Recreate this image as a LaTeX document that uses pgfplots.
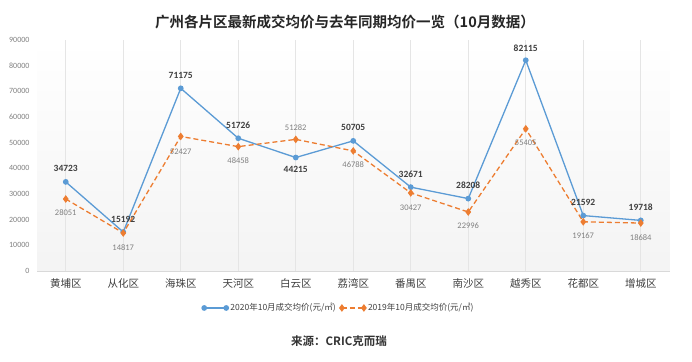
\documentclass[border=0pt]{standalone}
\usepackage{fontspec}
\usepackage{pgfplots}
\usepackage{pgfplotstable}
\pgfplotsset{compat=1.18}
\setmainfont{Carlito}
\newfontfamily\cjk{Noto Sans CJK SC}[BoldFont={Noto Sans CJK SC Bold}]
\definecolor{cblue}{HTML}{5B9BD5}
\definecolor{corange}{HTML}{ED7D31}
\definecolor{lbl}{HTML}{404040}

\pgfplotstableread{
x y dy
0 34723 13
1 15192 13
2 71175 13
3 51726 13
4 44215 -12
5 50705 13
6 32671 13
7 28208 13
8 82115 12
9 21592 13
10 19718 13
}\dataA

\pgfplotstableread{
x y dy
0 28051 -14
1 14817 -15
2 52427 -15
3 48458 -14
4 51282 12
5 46788 -14
6 30427 -15
7 22996 -14
8 55405 -14
9 19167 -14
10 18684 -15
}\dataB

\begin{document}
\begin{tikzpicture}
\useasboundingbox (0pt,0pt) rectangle (692pt,361pt);
\begin{axis}[
  at={(37pt,90pt)}, anchor=south west, scale only axis,
  width=632.5pt, height=231pt,
  xmin=-0.5, xmax=10.5, ymin=0, ymax=90000,
  axis background/.style={shade, top color=white, bottom color=gray!9},
  axis line style={draw=none}, major tick length=0pt,
  xtick={0,...,10},
  xticklabels={黄埔区,从化区,海珠区,天河区,白云区,荔湾区,番禺区,南沙区,越秀区,花都区,增城区},
  xticklabel style={font=\cjk\fontsize{10.5}{11}\selectfont, text=lbl, yshift=-4pt},
  ytick={0,10000,...,90000}, scaled y ticks=false,
  /pgf/number format/1000 sep={}, /pgf/number format/assume math mode=true,
  yticklabel style={font=\fontsize{8}{9}\selectfont, text=gray, xshift=-4pt},
  xmajorgrids, grid style={gray!20, line width=0.6pt},
  clip=false,
  legend columns=2,
  legend style={at={(axis description cs:0.477,-0.16)}, anchor=center, draw=none, fill=none,
    font=\cjk\fontsize{8.5}{9}\selectfont, text=lbl,
    /tikz/every even column/.append style={column sep=2pt}},
  legend image code/.code={\draw[#1] plot coordinates {(0pt,0pt) (22pt,0pt)};},
  point meta=explicit symbolic,
  visualization depends on={\thisrow{dy} \as \labdy},
]
\draw[gray!30, line width=0.6pt] (axis cs:-0.5,0) -- (axis cs:10.5,0);
\addplot[color=cblue, line width=1.3pt, mark=*, mark size=2.2pt,
  nodes near coords, nodes near coords style={anchor=center, yshift=\labdy pt,
  font=\bfseries\fontsize{9.5}{10}\selectfont, text=lbl}]
  table[x=x, y=y, meta=y] {\dataA};
\addlegendentry{2020年10月成交均价(元/㎡)}
\addplot[color=corange, line width=1.3pt, dash pattern=on 5pt off 3pt, mark=diamond*, mark size=2.8pt,
  mark options={solid},
  nodes near coords, nodes near coords style={anchor=center, yshift=\labdy pt,
  font=\fontsize{8.5}{9}\selectfont, text=gray}]
  table[x=x, y=y, meta=y] {\dataB};
\addlegendentry{2019年10月成交均价(元/㎡)}
\end{axis}
\node[font=\cjk\bfseries\fontsize{14.5}{15}\selectfont, text=black!85] at (345pt,339pt)
  {广州各片区最新成交均价与去年同期均价一览（10月数据）};
\node[font=\cjk\bfseries\fontsize{11.5}{12}\selectfont, text=black!80] at (339pt,20pt)
  {来源：CRIC克而瑞};
\end{tikzpicture}
\end{document}
